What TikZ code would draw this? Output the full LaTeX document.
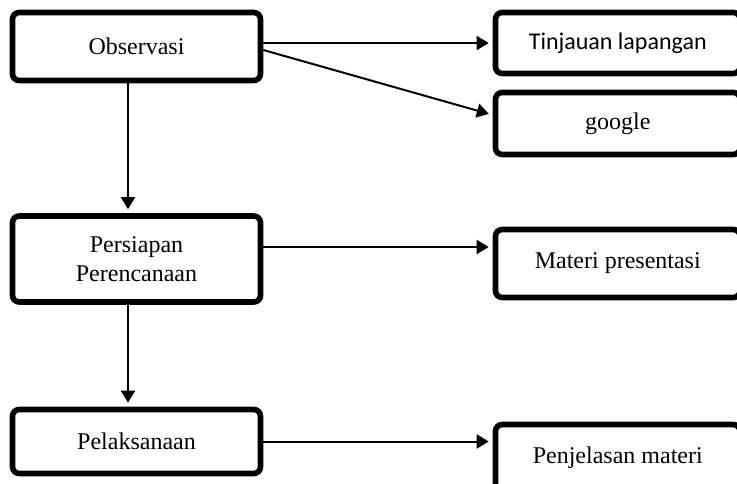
\documentclass[tikz,border=0pt]{standalone}
\usepackage{fontspec}
\setmainfont{Liberation Serif}
\newfontfamily\calib{Carlito}
\usetikzlibrary{arrows.meta,calc}
\begin{document}
\begin{tikzpicture}[x=0.75pt,y=-0.75pt,
  boxstyle/.style={draw, line width=4.2pt, rounded corners=5pt, fill=white,
    inner sep=0pt, align=center, font=\fontsize{18}{22}\selectfont},
  arr/.style={line width=1.5pt, -{Triangle[width=10.5pt,length=9pt]}, shorten >=3pt}]
\useasboundingbox (0,0) rectangle (737,484);
\clip (0,0) rectangle (737,484);
\node[boxstyle, minimum width=186pt, minimum height=51pt] (obs) at (136.5,46.5) {Observasi};
\node[boxstyle, minimum width=186pt, minimum height=64.5pt] (pers) at (136.5,259) {Persiapan\\Perencanaan};
\node[boxstyle, minimum width=186pt, minimum height=48pt] (pel) at (136.5,441.5) {Pelaksanaan};
\node[boxstyle, minimum width=183.4pt, minimum height=45.75pt] (tin) at (617.75,43) {\calib Tinjauan lapangan};
\node[boxstyle, minimum width=183.4pt, minimum height=46.5pt] (goo) at (617.75,123.5) {google};
\node[boxstyle, minimum width=183.4pt, minimum height=51pt] (mat) at (617.75,263.5) {Materi presentasi};
\node[boxstyle, minimum width=183.4pt, minimum height=49.1pt] (pen) at (617.75,457.25) {Penjelasan materi};
\coordinate (v1) at (128,0);
\coordinate (h2) at (0,247);
\draw[arr] (obs.south -| v1) -- (pers.north -| v1);
\draw[arr] (pers.south -| v1) -- (pel.north -| v1);
\draw[arr] (obs.east |- tin.west) -- (tin.west);
\draw[arr] ($(obs.east)+(0,3.5)$) -- ($(goo.west)+(0,-8.5)$);
\draw[arr] (pers.east |- h2) -- (mat.west |- h2);
\draw[arr] (pel.east) -- (pen.west |- pel.east);
\end{tikzpicture}
\end{document}
